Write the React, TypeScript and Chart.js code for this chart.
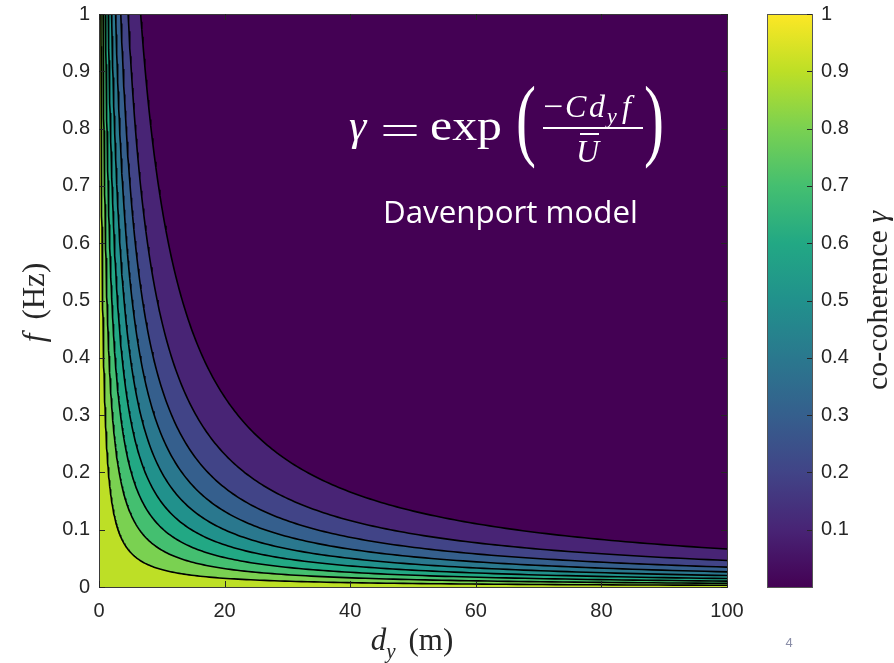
import React, { useEffect, useRef } from "react";
import { Chart, registerables } from "chart.js";

Chart.register(...registerables);

// ---------------- data ----------------
const distanceTicks = [0, 20, 40, 60, 80, 100];
const frequencyTicks = [0, 0.1, 0.2, 0.3, 0.4, 0.5, 0.6, 0.7, 0.8, 0.9, 1];
const coherenceLevels = [0.1, 0.2, 0.3, 0.4, 0.5, 0.6, 0.7, 0.8, 0.9];
const levelColors = ["#482475", "#414487", "#355f8d", "#2a788e", "#21918c", "#22a884", "#44bf70", "#7ad151", "#bddf26"];
const baseColor = "#440154";
const colorbarColors = ["#440154", "#482475", "#414487", "#355f8d", "#2a788e", "#21918c", "#22a884", "#44bf70", "#7ad151", "#bddf26", "#fde725"];
const colorbarTicks = [0.1, 0.2, 0.3, 0.4, 0.5, 0.6, 0.7, 0.8, 0.9, 1];
// Davenport model gamma = exp(-C d f / U); ratio U/C
const windRatio = 2.88;
const distanceMax = 100;
const frequencyMax = 1;

// contour line of the model for one coherence level
function contourPoints(level: number) {
  const product = windRatio * Math.log(1 / level);
  const dStart = product / frequencyMax;
  const n = 200;
  const pts: { x: number; y: number }[] = [];
  for (let i = 0; i <= n; i++) {
    const d = dStart * Math.pow(distanceMax / dStart, i / n);
    pts.push({ x: d, y: product / d });
  }
  return pts;
}

const TICK_FONT = { family: "'Liberation Sans', Arial, sans-serif", size: 20 };
const TICK_COLOR = "#262626";
const SERIF = "'Liberation Serif', 'Times New Roman', serif";

function drawScaled(ctx: CanvasRenderingContext2D, text: string, x: number, y: number, font: string, width?: number) {
  ctx.font = font;
  if (width) {
    const w = ctx.measureText(text).width;
    ctx.save();
    ctx.translate(x, y);
    ctx.scale(width / w, 1);
    ctx.fillText(text, 0, 0);
    ctx.restore();
  } else {
    ctx.fillText(text, x, y);
  }
}

function zeroPadding(s: any) {
  s.paddingTop = 0;
  s.paddingBottom = 0;
  s.paddingLeft = 0;
  s.paddingRight = 0;
}

const decorPlugin = {
  id: "decor",
  beforeDatasetsDraw(chart: any) {
    const { ctx, chartArea: a } = chart;
    ctx.save();
    ctx.fillStyle = baseColor;
    ctx.fillRect(a.left, a.top, a.right - a.left, a.bottom - a.top);
    ctx.restore();
  },
  afterDatasetsDraw(chart: any) {
    const { ctx, chartArea: a, scales } = chart;
    ctx.save();
    ctx.strokeStyle = "#3a3a3a";
    ctx.lineWidth = 1;
    ctx.strokeRect(Math.round(a.left) + 0.5, Math.round(a.top) + 0.5, Math.round(a.right - a.left), Math.round(a.bottom - a.top));
    ctx.strokeStyle = TICK_COLOR;
    const tl = 6;
    ctx.beginPath();
    distanceTicks.forEach((v) => {
      const px = Math.round(scales.x.getPixelForValue(v)) + 0.5;
      ctx.moveTo(px, a.bottom);
      ctx.lineTo(px, a.bottom - tl);
      ctx.moveTo(px, a.top);
      ctx.lineTo(px, a.top + tl);
    });
    frequencyTicks.forEach((v) => {
      const py = Math.round(scales.y.getPixelForValue(v)) + 0.5;
      ctx.moveTo(a.left, py);
      ctx.lineTo(a.left + tl, py);
      ctx.moveTo(a.right, py);
      ctx.lineTo(a.right - tl, py);
    });
    ctx.stroke();
    ctx.restore();
  },
  afterDraw(chart: any) {
    const { ctx, chartArea: a, scales } = chart;
    const cb = scales.cb;
    ctx.save();
    // colorbar
    const x0 = Math.round(a.right + 40);
    const x1 = Math.round(a.right + 85);
    const yTop = cb.getPixelForValue(1);
    const yBot = cb.getPixelForValue(0);
    const g = ctx.createLinearGradient(0, yBot, 0, yTop);
    colorbarColors.forEach((c, i) => g.addColorStop(i / (colorbarColors.length - 1), c));
    ctx.fillStyle = g;
    ctx.fillRect(x0, yTop, x1 - x0, yBot - yTop);
    ctx.strokeStyle = "#555";
    ctx.lineWidth = 1;
    ctx.strokeRect(x0 + 0.5, Math.round(yTop) + 0.5, x1 - x0, Math.round(yBot - yTop));
    ctx.strokeStyle = TICK_COLOR;
    ctx.beginPath();
    colorbarTicks.forEach((v) => {
      const py = Math.round(cb.getPixelForValue(v)) + 0.5;
      ctx.moveTo(x1, py);
      ctx.lineTo(x1 - 5, py);
    });
    ctx.stroke();

    // equation (white)
    ctx.fillStyle = "#ffffff";
    ctx.textBaseline = "alphabetic";
    ctx.textAlign = "left";
    drawScaled(ctx, "γ", 349, 140, `italic 44px ${SERIF}`);
    drawScaled(ctx, "=", 380, 144, `42px ${SERIF}`, 40);
    drawScaled(ctx, "exp", 430, 140, `44px ${SERIF}`, 72);
    drawScaled(ctx, "(", 516, 149, `92px ${SERIF}`, 20);
    drawScaled(ctx, ")", 644, 149, `92px ${SERIF}`, 20);
    drawScaled(ctx, "−", 543, 117, `32px ${SERIF}`, 20);
    drawScaled(ctx, "C", 565, 117, `italic 32px ${SERIF}`);
    drawScaled(ctx, "d", 589, 117, `italic 32px ${SERIF}`);
    drawScaled(ctx, "y", 607, 123, `italic 22px ${SERIF}`);
    drawScaled(ctx, "f", 622, 117, `italic 32px ${SERIF}`);
    ctx.fillRect(543, 127, 100, 2);
    drawScaled(ctx, "U", 576, 162, `italic 32px ${SERIF}`);
    ctx.fillRect(580, 133, 19, 2);

    // model name
    ctx.font = `30px 'Open Sans', 'Noto Sans', sans-serif`;
    const mw = ctx.measureText("Davenport model").width;
    const ms = (30 * 255) / mw;
    ctx.font = `${ms.toFixed(1)}px 'Open Sans', 'Noto Sans', sans-serif`;
    ctx.fillText("Davenport model", 383, 223);

    // x axis title: d_y (m)
    ctx.fillStyle = "#262626";
    const xc = (a.left + a.right) / 2 - 1;
    ctx.font = `italic 31px ${SERIF}`;
    const wd = ctx.measureText("d").width;
    ctx.font = `italic 21px ${SERIF}`;
    const wy = ctx.measureText("y").width;
    ctx.font = `31px ${SERIF}`;
    const wm = ctx.measureText("(m)").width;
    const gap = 13;
    const sx = xc - (wd + wy + gap + wm) / 2;
    drawScaled(ctx, "d", sx, 650, `italic 31px ${SERIF}`);
    drawScaled(ctx, "y", sx + wd, 658, `italic 21px ${SERIF}`);
    drawScaled(ctx, "(m)", sx + wd + wy + gap, 650, `31px ${SERIF}`);

    // y axis title: f (Hz)
    const yc = (a.top + a.bottom) / 2 + 2;
    ctx.font = `italic 31px ${SERIF}`;
    const wf = ctx.measureText("f").width;
    ctx.font = `31px ${SERIF}`;
    const wh = ctx.measureText("(Hz)").width;
    const gap2 = 14;
    ctx.save();
    ctx.translate(44, yc + (wf + gap2 + wh) / 2);
    ctx.rotate(-Math.PI / 2);
    drawScaled(ctx, "f", 0, 0, `italic 31px ${SERIF}`);
    drawScaled(ctx, "(Hz)", wf + gap2, 0, `31px ${SERIF}`);
    ctx.restore();

    // colorbar title: co-coherence γ
    const cyc = (yTop + yBot) / 2;
    ctx.font = `30px ${SERIF}`;
    const wc = ctx.measureText("co-coherence ").width;
    ctx.font = `italic 30px ${SERIF}`;
    const wg = ctx.measureText("γ").width;
    ctx.save();
    ctx.translate(887, cyc + (wc + wg) / 2);
    ctx.rotate(-Math.PI / 2);
    drawScaled(ctx, "co-coherence ", 0, 0, `30px ${SERIF}`);
    drawScaled(ctx, "γ", wc, 0, `italic 30px ${SERIF}`);
    ctx.restore();

    // slide page number
    ctx.fillStyle = "#8a8ea8";
    ctx.font = `13px 'Liberation Sans', Arial, sans-serif`;
    ctx.textAlign = "center";
    ctx.textBaseline = "middle";
    ctx.fillText("4", 789, 643);
    ctx.restore();
  },
};

export default function App() {
  const ref = useRef<HTMLCanvasElement | null>(null);
  useEffect(() => {
    if (!ref.current) return;
    const fills = coherenceLevels.map((lv, i) => ({
      data: [{ x: 0, y: frequencyMax }, ...contourPoints(lv)],
      fill: "origin",
      backgroundColor: levelColors[i],
      borderColor: "rgba(0,0,0,0)",
      borderWidth: 0,
      pointRadius: 0,
      tension: 0,
      order: 1 + (coherenceLevels.length - 1 - i),
    }));
    const lines = coherenceLevels.map((lv) => ({
      data: contourPoints(lv),
      fill: false,
      borderColor: "#000000",
      borderWidth: 1.6,
      pointRadius: 0,
      tension: 0,
      order: 0,
    }));
    const chart = new Chart(ref.current, {
      type: "line",
      data: { datasets: [...lines, ...fills] as any },
      options: {
        responsive: false,
        animation: false,
        devicePixelRatio: 1,
        events: [],
        layout: { padding: { left: 0, top: 14, right: 0, bottom: 0 } },
        plugins: { legend: { display: false }, tooltip: { enabled: false } },
        scales: {
          x: {
            type: "linear",
            min: 0,
            max: distanceMax,
            grid: { display: false, drawTicks: false },
            border: { display: false },
            afterBuildTicks: (s: any) => {
              s.ticks = distanceTicks.map((v) => ({ value: v }));
            },
            ticks: { font: TICK_FONT, color: TICK_COLOR, padding: 12, maxRotation: 0, callback: (v: any) => String(v) },
            afterFit: (s: any) => {
              s.height = 76;
              zeroPadding(s);
            },
          },
          y: {
            type: "linear",
            position: "left",
            min: 0,
            max: frequencyMax,
            grid: { display: false, drawTicks: false },
            border: { display: false },
            afterBuildTicks: (s: any) => {
              s.ticks = frequencyTicks.map((v) => ({ value: v }));
            },
            ticks: { font: TICK_FONT, color: TICK_COLOR, padding: 9, callback: (v: any) => String(v) },
            afterFit: (s: any) => {
              s.width = 99;
              zeroPadding(s);
            },
          },
          cb: {
            type: "linear",
            position: "right",
            min: 0,
            max: 1,
            grid: { display: false, drawTicks: false },
            border: { display: false },
            afterBuildTicks: (s: any) => {
              s.ticks = colorbarTicks.map((v) => ({ value: v }));
            },
            ticks: { font: TICK_FONT, color: TICK_COLOR, padding: 94, callback: (v: any) => String(v) },
            afterFit: (s: any) => {
              s.width = 167;
              zeroPadding(s);
            },
          },
        },
      } as any,
      plugins: [decorPlugin],
    });
    return () => chart.destroy();
  }, []);
  return (
    <div style={{ position: "absolute", left: 0, top: 0, width: 894, height: 663, background: "#fff" }}>
      <canvas ref={ref} width={894} height={663} style={{ width: 894, height: 663, display: "block" }} />
    </div>
  );
}
